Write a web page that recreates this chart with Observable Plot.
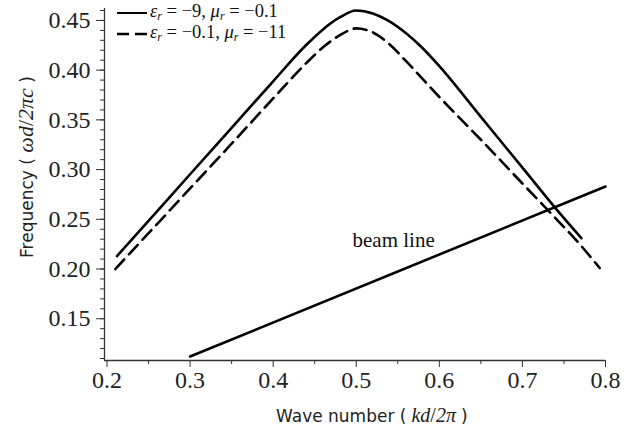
<!DOCTYPE html>
<html>
<head>
<meta charset="utf-8">
<script src="https://cdn.jsdelivr.net/npm/d3@7"></script>
<script src="https://cdn.jsdelivr.net/npm/@observablehq/plot@0.6"></script>
<style>
  html, body { margin: 0; padding: 0; background: #fff; }
  #wrap { position: relative; width: 643px; height: 428px; overflow: hidden; }
  .lab { position: absolute; white-space: nowrap; color: #222; line-height: 1; }
  .sans { font-family: "DejaVu Sans", sans-serif; font-size: 17px; }
  .math { font-family: "Liberation Serif", "Times New Roman", serif; font-style: italic; }
  .leg { position: absolute; left: 116px; font-family: "Liberation Serif", serif; font-size: 18.5px; color: #111; white-space: nowrap; }
  .leg i { font-style: italic; }
  .leg sub { font-size: 12px; vertical-align: -3px; font-style: italic; }
  .leg svg { vertical-align: middle; margin-right: 2px; }
</style>
</head>
<body>
<div id="wrap"></div>
<script>
// ---- data ----
const kSolid = [0.212, 0.25, 0.30, 0.35, 0.40, 0.44, 0.46, 0.48, 0.50, 0.52, 0.54, 0.56, 0.58, 0.60, 0.65, 0.70, 0.74, 0.771];
const wSolid = [0.213, 0.2485, 0.2953, 0.342, 0.3888, 0.4255, 0.441, 0.453, 0.460, 0.457, 0.449, 0.437, 0.422, 0.404, 0.353, 0.302, 0.261, 0.231];
const kDash = [0.21, 0.25, 0.30, 0.35, 0.40, 0.44, 0.46, 0.48, 0.50, 0.52, 0.54, 0.56, 0.60, 0.65, 0.70, 0.74, 0.77, 0.793];
const wDash = [0.200, 0.236, 0.281, 0.326, 0.3716, 0.4072, 0.423, 0.435, 0.442, 0.438, 0.426, 0.409, 0.373, 0.330, 0.286, 0.251, 0.224, 0.201];
const kBeam = [0.30, 0.80];
const wBeam = [0.112, 0.283];
const xTicks = [0.2, 0.3, 0.4, 0.5, 0.6, 0.7, 0.8];
const xMinor = [0.25, 0.35, 0.45, 0.55, 0.65, 0.75];
const yTicks = [0.15, 0.20, 0.25, 0.30, 0.35, 0.40, 0.45];
const yMinor = d3.range(11, 47).map(v => v / 100);
const xDomain = [0.197, 0.8];
const yDomain = [0.108, 0.462];
const beamLabel = {k: 0.545, w: 0.229, text: "beam line"};

const solid = kSolid.map((k, i) => ({k, w: wSolid[i]}));
const dashed = kDash.map((k, i) => ({k, w: wDash[i]}));
const beam = kBeam.map((k, i) => ({k, w: wBeam[i]}));

const serif = "'Liberation Serif', 'Times New Roman', serif";

const chart = Plot.plot({
  width: 643,
  height: 428,
  marginLeft: 104,
  marginRight: 38,
  marginTop: 8,
  marginBottom: 68,
  style: {fontFamily: serif, color: "#222", background: "#fff"},
  x: {domain: xDomain, label: null},
  y: {domain: yDomain, label: null},
  marks: [
    Plot.axisY({ticks: yMinor, tickSize: 4, text: null, stroke: "#333"}),
    Plot.axisX({ticks: xMinor, tickSize: 4, text: null, stroke: "#333"}),
    Plot.axisY({ticks: yTicks, tickSize: 8, tickPadding: 6, tickFormat: d3.format(".2f"), fontSize: 24, fontFamily: serif, stroke: "#333", fill: "#222"}),
    Plot.axisX({ticks: xTicks, tickSize: 7, tickPadding: 3, tickFormat: d3.format(".1f"), fontSize: 24, fontFamily: serif, stroke: "#333", fill: "#222"}),
    Plot.ruleX([xDomain[0]], {stroke: "#333", strokeWidth: 1.3}),
    Plot.ruleY([yDomain[0]], {stroke: "#333", strokeWidth: 1.3}),
    Plot.line(beam, {x: "k", y: "w", stroke: "#000", strokeWidth: 2.6}),
    Plot.line(solid, {x: "k", y: "w", stroke: "#000", strokeWidth: 2.6, curve: "monotone-x"}),
    Plot.line(dashed, {x: "k", y: "w", stroke: "#000", strokeWidth: 2.6, strokeDasharray: "13,7", curve: "monotone-x"}),
    Plot.text([beamLabel], {x: "k", y: "w", text: "text", fontSize: 21, fontFamily: serif, fill: "#111"})
  ]
});

const wrap = document.getElementById("wrap");
wrap.appendChild(chart);

// legend
const leg1 = document.createElement("div");
leg1.className = "leg";
leg1.style.top = "1px";
leg1.innerHTML = '<svg width="32" height="6"><line x1="1" y1="3" x2="31" y2="3" stroke="#000" stroke-width="2"/></svg><i>ε</i><sub>r</sub> = −9, <i>μ</i><sub>r</sub> = −0.1';
wrap.appendChild(leg1);
const leg2 = document.createElement("div");
leg2.className = "leg";
leg2.style.top = "22px";
leg2.innerHTML = '<svg width="32" height="6"><line x1="1" y1="3" x2="31" y2="3" stroke="#000" stroke-width="2.4" stroke-dasharray="12,6"/></svg><i>ε</i><sub>r</sub> = −0.1, <i>μ</i><sub>r</sub> = −11';
wrap.appendChild(leg2);

// x label
const xl = document.createElement("div");
xl.className = "lab";
xl.innerHTML = '<span class="sans">Wave number (</span><span class="math" style="font-size:20px"> kd</span><span class="math" style="font-size:20px;font-style:normal">/</span><span class="math" style="font-size:20px">2π </span><span class="sans">)</span>';
wrap.appendChild(xl);
xl.style.left = (372 - xl.offsetWidth / 2) + "px";
xl.style.top = (415 - xl.offsetHeight / 2) + "px";

// y label
const yl = document.createElement("div");
yl.className = "lab";
yl.innerHTML = '<span class="sans">Frequency (</span><span class="math" style="font-size:22px"> ωd</span><span class="math" style="font-size:22px;font-style:normal">/</span><span class="math" style="font-size:22px">2πc </span><span class="sans">)</span>';
wrap.appendChild(yl);
const w = yl.offsetWidth, h = yl.offsetHeight;
yl.style.left = (26 - w / 2) + "px";
yl.style.top = (167 - h / 2) + "px";
yl.style.transform = "rotate(-90deg)";
</script>
</body>
</html>
